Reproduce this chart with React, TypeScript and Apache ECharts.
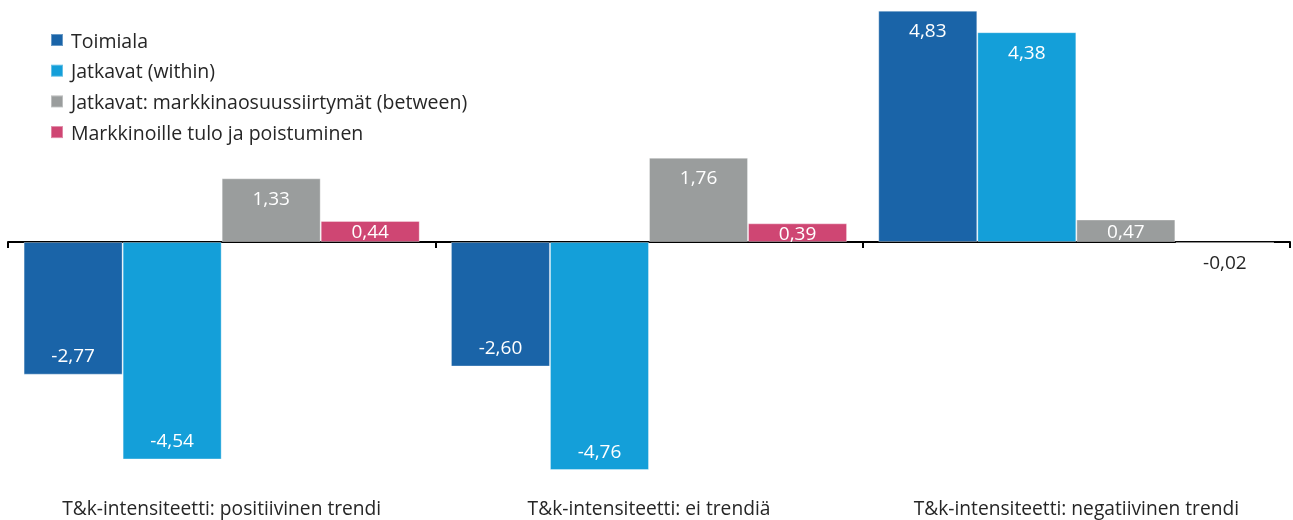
import React, { useEffect, useRef } from "react";
import * as echarts from "echarts";

const categories = [
  "T&k-intensiteetti: positiivinen trendi",
  "T&k-intensiteetti: ei trendiä",
  "T&k-intensiteetti: negatiivinen trendi",
];
const seriesNames = [
  "Toimiala",
  "Jatkavat (within)",
  "Jatkavat: markkinaosuussiirtymät (between)",
  "Markkinoille tulo ja poistuminen",
];
const toimiala = [-2.77, -2.6, 4.83];
const within = [-4.54, -4.76, 4.38];
const between = [1.33, 1.76, 0.47];
const entryExit = [0.44, 0.39, -0.02];
const colors = ["#1A64A8", "#149FD9", "#9A9D9D", "#CF4673"];

const FONT = "Open Sans";
const fmt = (v: number) => v.toFixed(2).replace(".", ",");

function makeData(values: number[]) {
  return values.map((v) => {
    const abs = Math.abs(v);
    let label: any;
    if (abs < 0.1) {
      label = { position: "bottom", color: "#262626", distance: 10 };
    } else if (abs < 0.6) {
      label = { position: "inside" };
    } else {
      label = { position: v >= 0 ? "insideTop" : "insideBottom", distance: 10 };
    }
    return { value: v, label };
  });
}

export default function App() {
  const ref = useRef<HTMLDivElement>(null);
  useEffect(() => {
    if (!ref.current) return;
    const chart = echarts.init(ref.current, null, { renderer: "svg" });
    const all = [toimiala, within, between, entryExit];
    chart.setOption({
      animation: false,
      textStyle: { fontFamily: FONT },
      legend: {
        orient: "vertical",
        left: 50,
        top: 30,
        itemWidth: 12,
        itemHeight: 12,
        itemGap: 10.7,
        icon: "rect",
        padding: 0,
        textStyle: {
          fontFamily: FONT,
          fontSize: 19.5,
          color: "#262626",
          lineHeight: 20,
          padding: [0, 0, 0, 3],
        },
        data: seriesNames,
      },
      grid: { left: 8, right: 3, top: 2.5, height: 479, outerBoundsMode: "none", containLabel: false },
      xAxis: [
        {
          type: "category",
          data: categories,
          axisLine: { onZero: true, lineStyle: { color: "#000", width: 2 } },
          axisTick: { show: true, length: 6, lineStyle: { color: "#000", width: 2 } },
          axisLabel: { show: false },
        },
        {
          type: "category",
          data: categories,
          position: "bottom",
          axisLine: { show: false, onZero: false },
          axisTick: { show: false },
          axisLabel: {
            interval: 0,
            hideOverlap: false,
            fontFamily: FONT,
            fontSize: 19.2,
            lineHeight: 20,
            color: "#262626",
            margin: 16,
          },
        },
      ],
      yAxis: { type: "value", min: -5, max: 5, show: false, splitLine: { show: false } },
      series: all.map((vals, i) => ({
        name: seriesNames[i],
        type: "bar",
        xAxisIndex: 0,
        barGap: "0%",
        barCategoryGap: "7.3%",
        itemStyle: { color: colors[i], borderColor: "rgba(255,255,255,0.35)", borderWidth: 1 },
        label: {
          show: true,
          color: "#fff",
          fontFamily: FONT,
          fontSize: 19,
          formatter: (p: any) => fmt(p.value),
        },
        data: makeData(vals),
      })),
    });
    return () => chart.dispose();
  }, []);
  return (
    <div
      ref={ref}
      style={{ position: "fixed", left: 0, top: 0, width: 1293, height: 520 }}
    />
  );
}
